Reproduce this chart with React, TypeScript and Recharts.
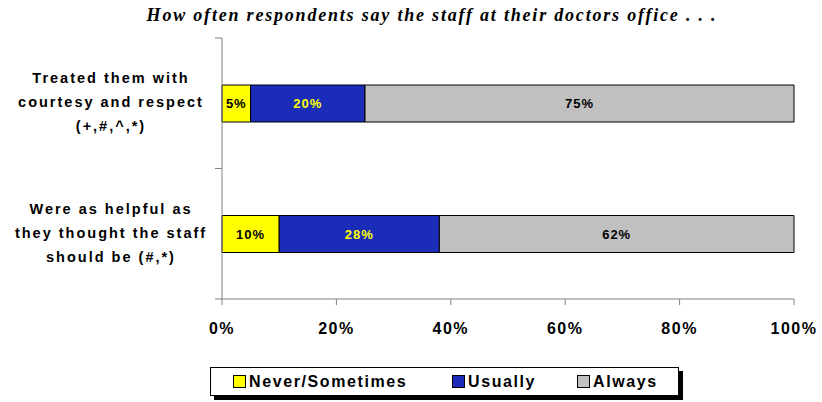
import React from "react";
import { BarChart, Bar, XAxis, YAxis, LabelList } from "recharts";

const categories = [
  "Treated them with\ncourtesy and respect\n(+,#,^,*)",
  "Were as helpful as\nthey thought the staff\nshould be (#,*)",
];
const neverSometimes = [5, 10];
const usually = [20, 28];
const always = [75, 62];
const xTicks = [0, 20, 40, 60, 80, 100];
const seriesNames = ["Never/Sometimes", "Usually", "Always"];
const title = "How often respondents say the staff at their doctors office . . .";

const colors = ["#FFFF00", "#1B2DB8", "#C0C0C0"];
const labelColors = ["#000000", "#FFFF00", "#000000"];

const data = categories.map((c, i) => ({
  name: c,
  never: neverSometimes[i],
  usually: usually[i],
  always: always[i],
}));

const SANS = "'Liberation Sans', Arial, sans-serif";
const SERIF = "'Liberation Serif', 'Times New Roman', serif";

const CHART_W = 822;
const CHART_H = 402;
const MARGIN_TOP = 38;
const XAXIS_H = 103;
const HALF_BAND = (CHART_H - MARGIN_TOP - XAXIS_H) / categories.length / 2;

const YTick = (props: any) => {
  const { x, y, payload, index } = props;
  const lines = String(payload.value).split("\n");
  const axisX = x + 7;
  return (
    <g>
      <line x1={axisX - 7} x2={axisX} y1={y - HALF_BAND} y2={y - HALF_BAND} stroke="#808080" />
      {index === categories.length - 1 && (
        <line x1={axisX - 7} x2={axisX} y1={y + HALF_BAND} y2={y + HALF_BAND} stroke="#808080" />
      )}
      {lines.map((ln, i) => (
        <text
          key={i}
          x={axisX - 111}
          y={y - 1 + (i - (lines.length - 1) / 2) * 24}
          textAnchor="middle"
          dominantBaseline="central"
          fontFamily={SANS}
          fontWeight="bold"
          fontSize={14.5}
          letterSpacing={2}
          fill="#000"
        >
          {ln}
        </text>
      ))}
    </g>
  );
};

const XTick = (props: any) => {
  const { x, y, payload } = props;
  return (
    <text
      x={x}
      y={y}
      textAnchor="middle"
      dominantBaseline="central"
      fontFamily={SANS}
      fontWeight="bold"
      fontSize={16}
      letterSpacing={1.5}
      fill="#000"
    >
      {`${payload.value}%`}
    </text>
  );
};

export default function App() {
  const keys = ["never", "usually", "always"];
  return (
    <div style={{ position: "relative", width: CHART_W, height: CHART_H, background: "#fff", overflow: "hidden" }}>
      <style>{"html,body{margin:0;padding:0;}"}</style>
      <div
        style={{
          position: "absolute",
          left: 0,
          top: 3,
          width: 864,
          textAlign: "center",
          fontFamily: SERIF,
          fontStyle: "italic",
          fontWeight: "bold",
          fontSize: 18,
          letterSpacing: 1.8,
          lineHeight: "24px",
          whiteSpace: "nowrap",
        }}
      >
        {title}
      </div>
      <BarChart
        width={CHART_W}
        height={CHART_H}
        data={data}
        layout="vertical"
        margin={{ top: MARGIN_TOP, right: 28, bottom: 0, left: 0 }}
        style={{ position: "absolute", left: 0, top: 0 }}
      >
        <XAxis
          type="number"
          domain={[0, 100]}
          ticks={xTicks}
          height={XAXIS_H}
          tickSize={6}
          tickMargin={23}
          stroke="#808080"
          tick={<XTick />}
          interval={0}
        />
        <YAxis
          type="category"
          dataKey="name"
          width={222}
          tickSize={7}
          tickMargin={0}
          tickLine={false}
          stroke="#808080"
          tick={<YTick />}
          interval={0}
        />
        {keys.map((k, i) => (
          <Bar
            key={k}
            dataKey={k}
            stackId="a"
            fill={colors[i]}
            stroke="#000"
            strokeWidth={1}
            barSize={37}
            isAnimationActive={false}
          >
            <LabelList
              dataKey={k}
              position="center"
              formatter={(v: any) => `${v}%`}
              fill={labelColors[i]}
              fontFamily={SANS}
              fontWeight="bold"
              fontSize={13}
              letterSpacing={1}
            />
          </Bar>
        ))}
      </BarChart>
      <div
        style={{
          position: "absolute",
          left: 210,
          top: 367,
          width: 467,
          height: 27,
          border: "1px solid #000",
          boxShadow: "4px 4px 0 #000",
          fontFamily: SANS,
          fontWeight: "bold",
          fontSize: 16,
          letterSpacing: 1.6,
          background: "#fff",
        }}
      >
        {seriesNames.map((n, i) => (
          <div
            key={n}
            style={{
              position: "absolute",
              left: [22, 241, 366][i],
              top: 0,
              height: 27,
              display: "flex",
              alignItems: "center",
            }}
          >
            <span
              style={{
                display: "inline-block",
                width: 11,
                height: 11,
                background: colors[i],
                border: "1px solid #000",
                marginRight: 3,
              }}
            />
            <span>{n}</span>
          </div>
        ))}
      </div>
    </div>
  );
}
